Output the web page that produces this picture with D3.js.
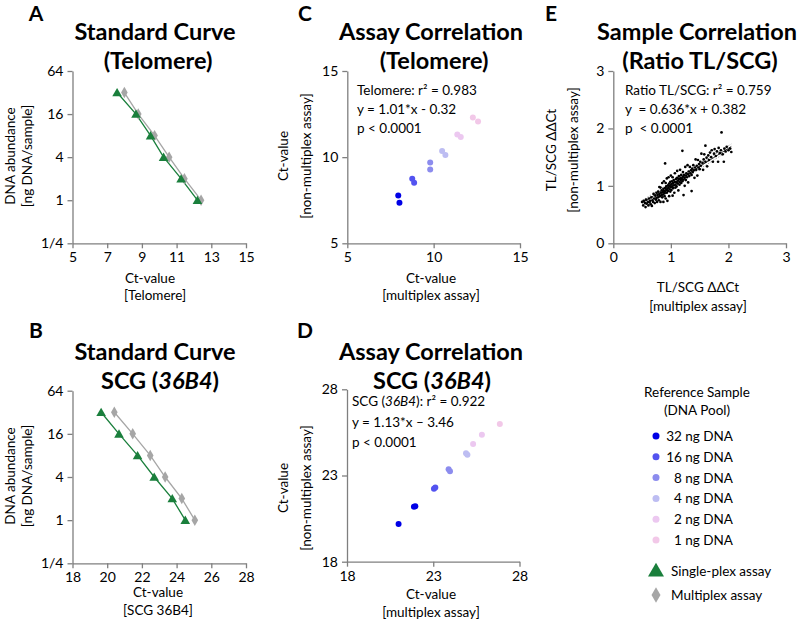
<!DOCTYPE html>
<html><head><meta charset="utf-8">
<script src="https://cdn.jsdelivr.net/npm/d3@7"></script>
<style>
body{margin:0;background:#fff;}
svg{display:block;font-family:Lato,"Open Sans",sans-serif;}
</style></head><body>
<svg id="c" width="798" height="623"></svg>
<script>
// ---------- DATA ----------
const dnaAmounts = [32, 16, 8, 4, 2, 1];
const telSingleCt = [7.57, 8.66, 9.50, 10.25, 11.26, 12.20];
const telMultiCt  = [7.99, 8.79, 9.73, 10.57, 11.45, 12.41];
const scgSingleCt = [19.65, 20.68, 21.75, 22.71, 23.75, 24.50];
const scgMultiCt  = [20.41, 21.47, 22.48, 23.34, 24.30, 25.05];

const telCorrMulti = [7.95, 8.02, 8.76, 8.87, 9.80, 9.80, 10.49, 10.68, 11.37, 11.57, 12.27, 12.57];
const telCorrNon   = [7.78, 7.35, 8.74, 8.51, 9.69, 9.28, 10.36, 10.13, 11.31, 11.17, 12.30, 12.07];
const telCorrLevel = [32, 32, 16, 16, 8, 8, 4, 4, 2, 2, 1, 1];

const scgCorrMulti = [20.99, 21.88, 21.96, 23.04, 23.12, 23.89, 23.97, 24.90, 24.98, 25.31, 25.82, 26.86];
const scgCorrNon   = [20.19, 21.19, 21.22, 22.23, 22.30, 23.36, 23.24, 24.29, 24.20, 24.83, 25.37, 25.98];
const scgCorrLevel = [32, 32, 32, 16, 16, 8, 8, 4, 4, 2, 2, 1];

const ratioPoints = [
[0.50,0.72],[0.52,0.66],[0.53,0.74],[0.55,0.70],[0.56,0.63],[0.57,0.76],[0.58,0.69],[0.60,0.72],[0.61,0.66],[0.62,0.78],
[0.63,0.71],[0.64,0.74],[0.65,0.68],[0.66,0.80],[0.67,0.65],[0.68,0.75],[0.69,0.72],[0.70,0.86],[0.71,0.78],[0.72,0.70],
[0.73,0.83],[0.74,0.76],[0.75,0.88],[0.75,0.79],[0.76,0.72],[0.77,0.84],[0.78,0.90],[0.78,0.80],[0.79,0.75],[0.80,0.86],
[0.80,0.98],[0.81,0.82],[0.82,0.72],[0.82,0.97],[0.83,0.88],[0.84,0.84],[0.84,0.92],[0.85,0.80],[0.85,1.05],[0.86,0.89],
[0.86,0.85],[0.87,0.95],[0.87,0.72],[0.88,0.91],[0.88,1.08],[0.89,0.87],[0.89,0.82],[0.90,0.96],[0.90,0.90],[0.90,1.39],
[0.91,1.05],[0.91,0.78],[0.92,0.93],[0.92,0.99],[0.93,0.88],[0.93,1.13],[0.94,0.95],[0.94,0.74],[0.95,1.01],[0.95,0.91],
[0.96,1.15],[0.96,0.97],[0.97,0.82],[0.97,1.04],[0.98,0.94],[0.98,1.00],[0.99,1.07],[0.99,0.90],[1.00,0.98],[1.00,1.18],
[1.01,1.03],[1.01,0.93],[1.02,1.08],[1.02,0.99],[1.03,1.15],[1.03,0.83],[1.04,1.05],[1.04,0.96],[1.05,1.10],[1.05,1.01],
[1.06,0.88],[1.07,1.07],[1.07,1.22],[1.08,1.02],[1.08,0.97],[1.09,1.12],[1.10,1.06],[1.10,0.99],[1.11,1.14],[1.11,1.26],
[1.12,1.04],[1.12,1.09],[1.13,0.92],[1.14,1.12],[1.14,1.17],[1.15,1.07],[1.15,1.02],[1.16,1.28],[1.17,1.10],[1.17,1.14],
[1.18,1.05],[1.18,1.19],[1.19,1.12],[1.20,1.61],[1.20,1.08],[1.21,1.16],[1.21,1.24],[1.22,0.84],[1.22,1.11],[1.23,1.19],
[1.24,1.00],[1.24,1.14],[1.25,1.33],[1.26,1.18],[1.26,1.10],[1.27,1.22],[1.28,1.15],[1.29,1.36],[1.30,1.20],[1.30,1.06],
[1.31,1.25],[1.32,1.17],[1.33,1.33],[1.34,1.22],[1.35,1.27],[1.36,0.91],[1.36,1.19],[1.37,1.30],[1.38,1.24],[1.39,1.36],
[1.40,1.27],[1.41,1.14],[1.42,1.32],[1.43,1.46],[1.44,1.28],[1.45,1.35],[1.46,1.18],[1.47,1.45],[1.48,1.32],[1.49,1.38],
[1.50,1.29],[1.51,1.42],[1.52,1.35],[1.53,1.56],[1.55,1.40],[1.56,1.28],[1.57,1.46],[1.58,1.55],[1.60,1.70],[1.60,1.42],
[1.62,1.49],[1.63,1.34],[1.65,1.53],[1.66,1.45],[1.68,1.58],[1.70,1.50],[1.71,1.62],[1.73,1.42],[1.75,1.56],[1.76,1.64],
[1.78,1.52],[1.80,1.60],[1.82,1.42],[1.83,1.66],[1.85,1.57],[1.87,1.62],[1.88,1.93],[1.90,1.55],[1.92,1.42],[1.93,1.65],
[1.95,1.60],[1.97,1.68],[2.00,1.62],[2.03,1.65],[2.05,1.59]
];
const ratioFit = {slope: 0.636, intercept: 0.382, xMin: 0.50, xMax: 2.05};

const legendLevels = [32, 16, 8, 4, 2, 1];
const levelColors = ["#0000e6", "#5353f0", "#8c8cee", "#bdbdf2", "#ecc8f0", "#f2c8e8"];

const ticksA_x = [5, 7, 9, 11, 13, 15];
const ticksB_x = [18, 20, 22, 24, 26, 28];
const ticksLog_y = [0.25, 1, 4, 16, 64];
const ticksC = [5, 10, 15];
const ticksD = [18, 23, 28];
const ticksE = [0, 1, 2, 3];

// ---------- DRAW ----------
const svg = d3.select("#c");
const FONT = 13.5, TICKFONT = 14, TITLEFONT = 23.5;
const GREEN = "#1a7f3c", GRAY = "#a6a6a6", AXIS = "#7f7f7f";
const colorOf = d3.scaleOrdinal().domain(legendLevels).range(levelColors);

function drawAxes(x, y, xt, yt, yfmt) {
  const [xa] = x.range(), [ya] = y.range();
  const gx = svg.append("g").attr("transform", `translate(0,${ya})`)
    .call(d3.axisBottom(x).tickValues(xt).tickSize(5).tickSizeOuter(0).tickPadding(4).tickFormat(d => d));
  const gy = svg.append("g").attr("transform", `translate(${xa},0)`)
    .call(d3.axisLeft(y).tickValues(yt).tickSize(5).tickSizeOuter(0).tickPadding(4).tickFormat(yfmt || (d => d)));
  [gx, gy].forEach(g => {
    g.select(".domain").attr("stroke", AXIS).attr("stroke-width", 1.3);
    g.selectAll(".tick line").attr("stroke", AXIS).attr("stroke-width", 1.3);
    g.selectAll("text").attr("font-size", TICKFONT).attr("fill", "#000").attr("font-family", "Lato");
  });
}
function text(x, y, s, opts = {}) {
  const t = svg.append("text").attr("x", x).attr("y", y)
    .attr("font-size", opts.size || FONT).attr("text-anchor", opts.anchor || "middle")
    .attr("font-weight", opts.bold ? "bold" : null).attr("fill", "#000");
  if (opts.rotate) t.attr("transform", `rotate(-90,${x},${y})`);
  if (Array.isArray(s)) s.forEach(p => t.append("tspan").attr("font-style", p.i ? "italic" : null).text(p.t));
  else t.text(s);
  return t;
}
function title(x, y1, y2, l1, l2) {
  text(x[0], y1, l1, {size: TITLEFONT, bold: true});
  text(x[1], y2, l2, {size: TITLEFONT, bold: true});
}
const logFmt = d => d < 1 ? "1/4" : String(d);
const tri = d3.symbol().type(d3.symbolTriangle);
const dia = d3.symbol().type(d3.symbolDiamond);

function stdCurve(x, y, single, multi) {
  const line = d3.line().x(d => x(d[0])).y(d => y(d[1]));
  const s = single.map((c, i) => [c, dnaAmounts[i]]);
  const m = multi.map((c, i) => [c, dnaAmounts[i]]);
  svg.append("path").attr("d", line(m)).attr("fill", "none").attr("stroke", GRAY).attr("stroke-width", 1.3);
  svg.append("path").attr("d", line(s)).attr("fill", "none").attr("stroke", GREEN).attr("stroke-width", 1.3);
  svg.selectAll(null).data(m).enter().append("path").attr("d", dia.size(38)())
    .attr("transform", d => `translate(${x(d[0])},${y(d[1])})`).attr("fill", GRAY);
  svg.selectAll(null).data(s).enter().append("path").attr("d", tri.size(40)())
    .attr("transform", d => `translate(${x(d[0])},${y(d[1]) + 1})`).attr("fill", GREEN);
}

// Panel A
{
  const x = d3.scaleLinear().domain([5, 15]).range([72.5, 246]);
  const y = d3.scaleLog().base(2).domain([0.25, 64]).range([243.3, 71]);
  drawAxes(x, y, ticksA_x, ticksLog_y, logFmt);
  stdCurve(x, y, telSingleCt, telMultiCt);
  text(36, 21, "A", {size: 21, bold: true});
  title([155, 158], 40, 69, "Standard Curve", "(Telomere)");
  text(15, 156, "DNA abundance", {rotate: true});
  text(32, 156, "[ng DNA/sample]", {rotate: true});
  text(150, 283, "Ct-value");
  text(155, 300, "[Telomere]");
}
// Panel B
{
  const x = d3.scaleLinear().domain([18, 28]).range([72.5, 246]);
  const y = d3.scaleLog().base(2).domain([0.25, 64]).range([563.3, 390.7]);
  drawAxes(x, y, ticksB_x, ticksLog_y, logFmt);
  stdCurve(x, y, scgSingleCt, scgMultiCt);
  text(36, 338, "B", {size: 21, bold: true});
  title([155, 160], 360, 389, "Standard Curve", [{t: "SCG ("}, {t: "36B4", i: 1}, {t: ")"}]);
  text(15, 476, "DNA abundance", {rotate: true});
  text(32, 476, "[ng DNA/sample]", {rotate: true});
  text(158, 597, "Ct-value");
  text(158, 615, "[SCG 36B4]");
}
// Panel C
{
  const x = d3.scaleLinear().domain([5, 15]).range([347.3, 520]);
  const y = d3.scaleLinear().domain([5, 15]).range([243.3, 71]);
  drawAxes(x, y, ticksC, ticksC);
  svg.selectAll(null).data(telCorrMulti).enter().append("circle")
    .attr("cx", d => x(d)).attr("cy", (d, i) => y(telCorrNon[i])).attr("r", 3)
    .attr("fill", (d, i) => colorOf(telCorrLevel[i]));
  text(305, 21, "C", {size: 21, bold: true});
  title([431, 434], 40, 69, "Assay Correlation", "(Telomere)");
  text(357, 95, "Telomere: r² = 0.983", {anchor: "start"});
  text(357, 114, "y = 1.01*x - 0.32", {anchor: "start"});
  text(357, 133, "p < 0.0001", {anchor: "start"});
  text(288, 156, "Ct-value", {rotate: true});
  text(311, 156, "[non-multiplex assay]", {rotate: true});
  text(431, 283, "Ct-value");
  text(431, 300, "[multiplex assay]");
}
// Panel D
{
  const x = d3.scaleLinear().domain([18, 28]).range([347, 519.5]);
  const y = d3.scaleLinear().domain([18, 28]).range([561.7, 389.3]);
  drawAxes(x, y, ticksD, ticksD);
  svg.selectAll(null).data(scgCorrMulti).enter().append("circle")
    .attr("cx", d => x(d)).attr("cy", (d, i) => y(scgCorrNon[i])).attr("r", 3)
    .attr("fill", (d, i) => colorOf(scgCorrLevel[i]));
  text(305, 338, "D", {size: 21, bold: true});
  title([431, 432], 360, 389, "Assay Correlation", [{t: "SCG ("}, {t: "36B4", i: 1}, {t: ")"}]);
  text(352, 406, [{t: "SCG ("}, {t: "36B4", i: 1}, {t: "): r² = 0.922"}], {anchor: "start"});
  text(352, 427, "y = 1.13*x – 3.46", {anchor: "start"});
  text(352, 447, "p < 0.0001", {anchor: "start"});
  text(288, 488, "Ct-value", {rotate: true});
  text(311, 488, "[non-multiplex assay]", {rotate: true});
  text(431, 599, "Ct-value");
  text(431, 617, "[multiplex assay]");
}
// Panel E
{
  const x = d3.scaleLinear().domain([0, 3]).range([613.3, 786]);
  const y = d3.scaleLinear().domain([0, 3]).range([243.3, 71]);
  drawAxes(x, y, ticksE, ticksE);
  const fx = [ratioFit.xMin, ratioFit.xMax];
  const fl = d3.line().x(d => x(d)).y(d => y(ratioFit.slope * d + ratioFit.intercept));
  svg.append("path").attr("d", fl(fx)).attr("stroke", "#666").attr("stroke-width", 0.6)
    .attr("stroke-dasharray", "1.5,1.5").attr("fill", "none").attr("transform", "translate(0,-2.5)");
  svg.append("path").attr("d", fl(fx)).attr("stroke", "#666").attr("stroke-width", 0.6)
    .attr("stroke-dasharray", "1.5,1.5").attr("fill", "none").attr("transform", "translate(0,2.5)");
  svg.selectAll(null).data(ratioPoints).enter().append("circle")
    .attr("cx", d => x(d[0])).attr("cy", d => y(d[1])).attr("r", 1.35).attr("fill", "#000");
  svg.append("path").attr("d", fl(fx)).attr("stroke", "#000").attr("stroke-width", 0.8).attr("fill", "none");
  text(551, 21, "E", {size: 21, bold: true});
  title([697, 700], 40, 69, "Sample Correlation", "(Ratio TL/SCG)");
  text(625, 95, "Ratio TL/SCG: r² = 0.759", {anchor: "start"});
  text(625, 114, "y  = 0.636*x + 0.382", {anchor: "start"}).attr("xml:space", "preserve");
  text(625, 133, "p  < 0.0001", {anchor: "start"}).attr("xml:space", "preserve");
  text(556, 150, "TL/SCG ΔΔCt", {rotate: true});
  text(578, 150, "[non-multiplex assay]", {rotate: true});
  text(698, 292, "TL/SCG ΔΔCt");
  text(698, 311, "[multiplex assay]");
}
// Legend
{
  text(697, 397, "Reference Sample");
  text(697, 415, "(DNA Pool)");
  const ly = d3.scalePoint().domain(legendLevels).range([436, 540]);
  const g = svg.selectAll(null).data(legendLevels).enter().append("g");
  g.append("circle").attr("cx", 656).attr("cy", d => ly(d)).attr("r", 3.5).attr("fill", d => colorOf(d));
  g.append("text").attr("x", 733).attr("y", d => ly(d) + 5).attr("text-anchor", "end")
    .attr("font-size", FONT).text(d => `${d} ng DNA`);
  svg.append("path").attr("d", tri.size(110)()).attr("transform", "translate(656,572)").attr("fill", GREEN);
  text(671, 576, "Single-plex assay", {anchor: "start"});
  svg.append("path").attr("d", dia.size(70)()).attr("transform", "translate(656,595)").attr("fill", GRAY);
  text(671, 600, "Multiplex assay", {anchor: "start"});
}
</script></body></html>
